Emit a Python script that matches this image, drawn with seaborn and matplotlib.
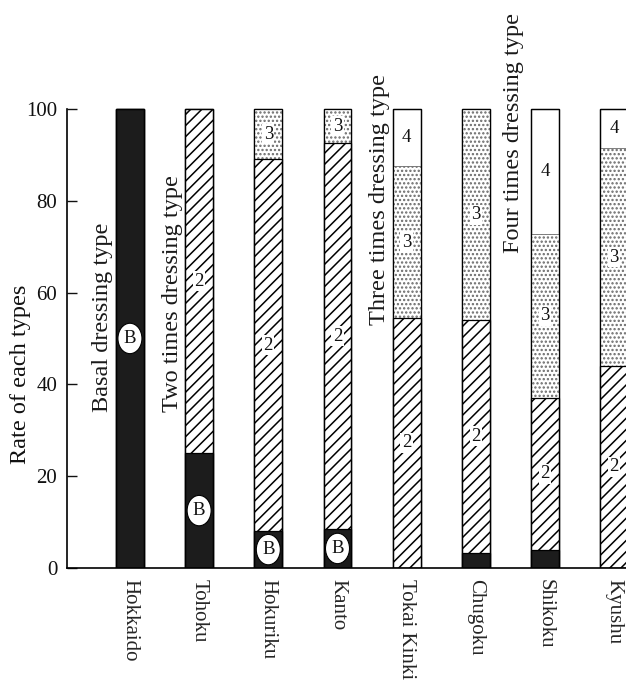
import matplotlib
matplotlib.use("Agg")
import matplotlib.pyplot as plt
import pandas as pd
import seaborn as sns

# Share (%) of each fertilizer-dressing type by region
regions = ["Hokkaido", "Tohoku", "Hokuriku", "Kanto",
           "Tokai Kinki", "Chugoku", "Shikoku", "Kyushu"]
basal = [100, 25, 8, 8.5, 0, 3.3, 4, 0]
two_times = [0, 75, 81, 84, 54.5, 50.7, 33, 44]
three_times = [0, 0, 11, 7.5, 33, 46, 35.8, 47.4]
four_times = [0, 0, 0, 0, 12.5, 0, 27.2, 8.6]
segment_keys = ["B", "2", "3", "4"]
y_ticks = [0, 20, 40, 60, 80, 100]

sns.set_theme(style="white")
plt.rcParams["font.family"] = ["Liberation Serif", "DejaVu Serif"]
plt.rcParams["hatch.linewidth"] = 1.1

df = pd.DataFrame({"region": regions, "B": basal, "2": two_times,
                   "3": three_times, "4": four_times})
cum = df[segment_keys].cumsum(axis=1)
cum["region"] = df["region"]

fig = plt.figure(figsize=(6.26, 6.82), dpi=100)
ax = fig.add_axes([0.107, 0.1672, 0.893, 0.6771])

# Stacked bars drawn as overlapping cumulative layers, top layer first;
# the edge colour of each layer also sets its hatch colour
layers = [
    ("4", "white", None, "black", 0.9),
    ("3", "white", "....", "#6a6a6a", 0.6),
    ("2", "white", "///", "black", 0.9),
    ("B", "#1c1c1c", None, "black", 0.9),
]
for key, face, hatch, edge, lw in layers:
    sns.barplot(data=cum, x="region", y=key, color=face, saturation=1,
                edgecolor=edge, linewidth=lw, width=0.4,
                hatch=hatch, ax=ax, errorbar=None)

# Outline of every full bar
sns.barplot(data=cum, x="region", y="4", fill=False, edgecolor="black",
            linewidth=0.9, width=0.4, ax=ax, errorbar=None)

# Segment labels inside the bars
bbox_plain = dict(boxstyle="square,pad=0.08", fc="white", ec="none")
bbox_b = dict(boxstyle="ellipse,pad=0.12", fc="white", ec="black", lw=0.8)
for i, row in df.iterrows():
    bottom = 0.0
    for key in segment_keys:
        val = row[key]
        if val >= 6:
            ax.text(i, bottom + val / 2, key, ha="center", va="center",
                    fontsize=13.5, color="#111111",
                    bbox=bbox_b if key == "B" else bbox_plain, zorder=5)
        bottom += val

# Type annotations beside the bars
annotations = [
    ("Basal dressing type", -0.40, 34),
    ("Two times dressing type", 0.62, 34),
    ("Three times dressing type", 3.60, 53),
    ("Four times dressing type", 5.55, 68.6),
]
for text, xpos, ypos in annotations:
    ax.text(xpos, ypos, text, rotation=90, ha="center", va="bottom",
            fontsize=17.5, color="#1a1a1a", clip_on=False)

ax.set_xlim(-0.91, 7.17)
ax.set_ylim(0, 100.6)
ax.set_yticks(y_ticks)
ax.set_yticklabels([str(t) for t in y_ticks], fontsize=15)
ax.tick_params(axis="y", direction="in", length=7, width=1, pad=7,
               left=True, colors="#111111")
ax.tick_params(axis="x", length=0, pad=8)
ax.set_xticks(range(len(regions)))
ax.set_xticklabels(regions, rotation=-90, fontsize=15, va="top", ha="center")
ax.set_xlabel("")
ax.set_ylabel("Rate of each types", fontsize=17.5, color="#111111")
ax.yaxis.set_label_coords(-0.064, 0.42)

for side in ["top", "right"]:
    ax.spines[side].set_visible(False)
ax.spines["left"].set_bounds(0, 100)
for side in ["left", "bottom"]:
    ax.spines[side].set_color("black")
    ax.spines[side].set_linewidth(1.2)

fig.savefig("out.png", dpi=100)
